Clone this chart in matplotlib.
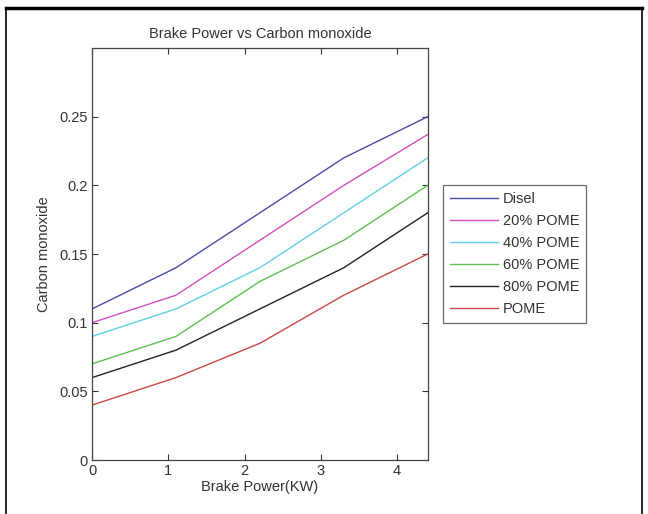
import numpy as np
import matplotlib
matplotlib.use('Agg')
from matplotlib import pyplot as plt
from matplotlib.lines import Line2D

plt.rcParams['font.family'] = ['Liberation Sans', 'DejaVu Sans']

###### Data
brake_power = [0, 1.1, 2.2, 3.3, 4.4]
disel = [0.11, 0.14, 0.18, 0.22, 0.25]
pome20 = [0.10, 0.12, 0.16, 0.20, 0.237]
pome40 = [0.09, 0.11, 0.14, 0.18, 0.22]
pome60 = [0.07, 0.09, 0.13, 0.16, 0.20]
pome80 = [0.06, 0.08, 0.11, 0.14, 0.18]
pome = [0.04, 0.06, 0.085, 0.12, 0.15]

labels = ['Disel', '20% POME', '40% POME', '60% POME', '80% POME', 'POME']
colors = ['#4b4ba8', '#d050c0', '#62d0e2', '#5cc04e', '#222222', '#cc4848']

###### Plot
fig = plt.figure(figsize=(6.48, 5.14), dpi=100)
ax = fig.add_axes([0.142, 0.105, 0.518, 0.8016])

for y, lab, c in zip([disel, pome20, pome40, pome60, pome80, pome], labels, colors):
    ax.plot(brake_power, y, color=c, lw=1.0, label=lab)

ax.set_xlim(0, 4.4)
ax.set_ylim(0, 0.3)
ax.set_xticks([0, 1, 2, 3, 4])
ax.set_yticks([0, 0.05, 0.1, 0.15, 0.2, 0.25])
ax.set_yticklabels(['0', '0.05', '0.1', '0.15', '0.2', '0.25'])
ax.tick_params(direction='in', top=True, right=True, labelsize=10.5, length=4,
               color='#333333', labelcolor='#333333', pad=3)
for s in ax.spines.values():
    s.set_color('#444444')
    s.set_linewidth(0.9)

ax.set_title('Brake Power vs Carbon monoxide', fontsize=10.5, color='#333333', pad=7)
ax.set_xlabel('Brake Power(KW)', fontsize=10.5, color='#333333', labelpad=1)
ax.set_ylabel('Carbon monoxide', fontsize=10.5, color='#333333', labelpad=6)

leg = ax.legend(loc='upper left', bbox_to_anchor=(0.672, 0.655),
                bbox_transform=fig.transFigure, fontsize=10.5, fancybox=False,
                edgecolor='#444444', handlelength=3.3, handletextpad=0.3,
                labelspacing=0.55, borderpad=0.5, frameon=True)
leg.get_frame().set_linewidth(0.9)
for t in leg.get_texts():
    t.set_color('#333333')

# outer black frame around the picture
fig.add_artist(Line2D([0.009, 0.991], [0.984, 0.984], color='black', lw=2.5,
                      transform=fig.transFigure))
fig.add_artist(Line2D([0.009, 0.009], [0.0, 0.984], color='black', lw=1.2,
                      transform=fig.transFigure))
fig.add_artist(Line2D([0.990, 0.990], [0.0, 0.984], color='black', lw=1.2,
                      transform=fig.transFigure))

fig.savefig('out.png', dpi=100)
